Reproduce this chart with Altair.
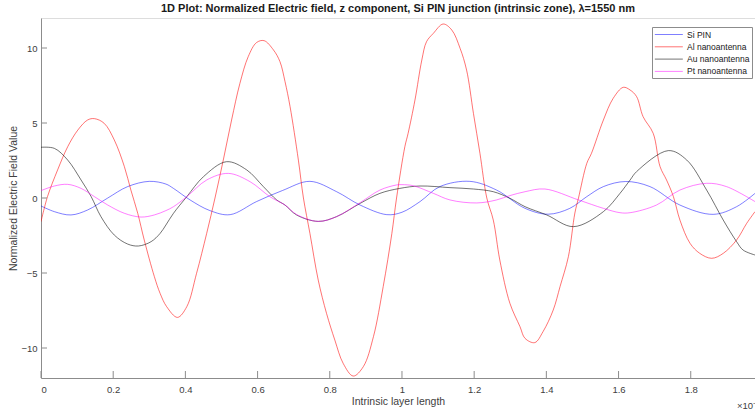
import altair as alt
import pandas as pd

names = ["Si PIN", "Al nanoantenna", "Au nanoantenna", "Pt nanoantenna"]
colors = ["rgba(0,0,255,0.5)", "rgba(255,0,0,0.55)", "rgba(0,0,0,0.55)", "rgba(255,0,255,0.5)"]

si_x = [0, 0.037, 0.083, 0.129, 0.185, 0.24, 0.30, 0.346, 0.367, 0.413, 0.468, 0.524, 0.597, 0.669,
        0.745, 0.819, 0.884, 0.958, 1.0, 1.05, 1.105, 1.188, 1.262, 1.341, 1.405, 1.465, 1.512,
        1.558, 1.62, 1.687, 1.77, 1.862, 1.927, 1.978]
si_y = [-0.53, -0.91, -1.13, -0.8, 0, 0.76, 1.11, 0.93, 0.64, -0.13, -0.84, -1.11, -0.24, 0.5,
        1.11, 0.42, -0.47, -1.11, -0.95, -0.24, 0.76, 1.11, 0.53, -0.69, -1.08, -0.69, 0.09,
        0.76, 1.1, 0.76, -0.47, -1.09, -0.58, 0.31]

al_x = [0, 0.018, 0.046, 0.074, 0.102, 0.129, 0.148, 0.175, 0.203, 0.231, 0.249, 0.268, 0.286,
        0.314, 0.33, 0.348, 0.378, 0.404, 0.431, 0.459, 0.482, 0.505, 0.528, 0.551, 0.574, 0.597,
        0.618, 0.644, 0.662, 0.676, 0.69, 0.713, 0.727, 0.745, 0.768, 0.791, 0.814, 0.837, 0.865,
        0.893, 0.921, 0.948, 0.972, 0.985, 1.008, 1.017, 1.036, 1.055, 1.068, 1.087, 1.114, 1.138,
        1.161, 1.179, 1.198, 1.216, 1.235, 1.253, 1.271, 1.299, 1.327, 1.341, 1.368, 1.391, 1.419,
        1.438, 1.461, 1.479, 1.489, 1.512, 1.525, 1.558, 1.585, 1.613, 1.632, 1.65, 1.668, 1.696,
        1.715, 1.733, 1.752, 1.77, 1.798, 1.825, 1.858, 1.89, 1.927, 1.955, 1.978]
al_y = [-1.58, 0.09, 1.87, 3.42, 4.53, 5.2, 5.29, 4.98, 3.87, 2.09, 0.53, -1.02, -2.8,
        -5.24, -6.36, -7.24, -7.96, -7.24, -5.02, -2.36, 0, 2.53, 5.2, 7.64, 9.42, 10.36,
        10.49, 9.87, 9.09, 7.76, 6.09, 2.53, 0, -2.36, -5.47, -7.69, -9.47, -11.02, -11.87,
        -11.24, -9.24, -5.91, -2.36, 0, 3.42, 4.31, 6.53, 9.2, 10.42, 10.98, 11.6, 11.2,
        9.98, 8.53, 5.64, 2.98, 0, -1.47, -4.13, -7.02, -8.58, -9.36, -9.64, -8.9, -7.47,
        -5.9, -3.91, -1.0, 0, 2.31, 2.98, 5.2, 6.64, 7.38, 7.2, 6.76, 5.42, 4.31,
        2.09, 1.2, 0.09, -1.47, -3.02, -3.69, -4.02, -3.69, -2.8, -1.69, -0.91]

au_x = [0, 0.037, 0.074, 0.111, 0.139, 0.166, 0.203, 0.24, 0.27, 0.305, 0.33, 0.346, 0.367, 0.404,
        0.45, 0.514, 0.57, 0.616, 0.653, 0.676, 0.708, 0.768, 0.819, 0.884, 0.939, 0.994, 1.05,
        1.133, 1.198, 1.253, 1.299, 1.341, 1.401, 1.475, 1.558, 1.604, 1.632, 1.65, 1.738, 1.789,
        1.844, 1.89, 1.927, 1.945, 1.978]
au_y = [3.38, 3.31, 2.53, 1.2, 0.09, -1.24, -2.47, -3.07, -3.2, -2.91, -2.36, -1.8, -1.02, 0.09,
        1.42, 2.42, 1.87, 0.76, -0.13, -0.47, -1.13, -1.56, -1.24, -0.36, 0.31, 0.64, 0.8,
        0.69, 0.6, 0.42, -0.02, -0.58, -1.13, -1.91, -0.91, 0.31, 1.2, 1.76, 3.16, 2.53,
        0.53, -1.47, -2.91, -3.47, -3.8]

pt_x = [0, 0.037, 0.074, 0.111, 0.148, 0.185, 0.231, 0.277, 0.314, 0.346, 0.367, 0.404, 0.459,
        0.519, 0.579, 0.634, 0.676, 0.708, 0.768, 0.819, 0.884, 0.939, 0.985, 1.0, 1.031, 1.087,
        1.133, 1.207, 1.262, 1.299, 1.341, 1.396, 1.489, 1.558, 1.604, 1.632, 1.705, 1.77, 1.844,
        1.899, 1.978]
pt_y = [0.49, 0.8, 0.91, 0.64, 0.09, -0.47, -1.02, -1.27, -1.13, -0.84, -0.58, 0.09, 1.2,
        1.64, 1.09, 0.09, -0.47, -1.1, -1.56, -1.24, -0.31, 0.53, 0.87, 0.89, 0.82, 0.31,
        -0.13, -0.33, -0.13, 0.16, 0.42, 0.6, -0.13, -0.69, -0.98, -0.98, -0.47, 0.53, 0.98,
        0.76, -0.24]

x_ticks = [0, 0.2, 0.4, 0.6, 0.8, 1.0, 1.2, 1.4, 1.6, 1.8]
y_ticks = [-10, -5, 0, 5, 10]

rows = []
for i, (n, xs, ys) in enumerate(zip(names, [si_x, al_x, au_x, pt_x], [si_y, al_y, au_y, pt_y])):
    for a, b in zip(xs, ys):
        rows.append({"series": n, "x": a, "y": b, "k": i})
df = pd.DataFrame(rows)

W, H = 714, 360
FONT = "Liberation Sans"
AXC = "#8c8c8c"
LBL = "#404040"

xscale = alt.Scale(domain=[0, 1.978], nice=False, zero=False)
yscale = alt.Scale(domain=[-12, 12], nice=False, zero=False)

lines = alt.Chart(df).mark_line(strokeWidth=1, interpolate="catmull-rom", clip=True).encode(
    x=alt.X("x:Q", scale=xscale, axis=alt.Axis(
        values=x_ticks, format="~g", title="Intrinsic layer length", ticks=False, tickSize=0,
        labelPadding=6, titlePadding=3, grid=False, domainColor=AXC, labelColor=LBL,
        titleColor=LBL, labelFontSize=9.5, titleFontSize=10.5, titleFontWeight="normal",
        labelFont=FONT, titleFont=FONT)),
    y=alt.Y("y:Q", scale=yscale, axis=alt.Axis(
        values=y_ticks, title="Normalized Electric Field Value", ticks=False, tickSize=0,
        labelPadding=4, titlePadding=2, grid=False, domainColor=AXC, labelColor=LBL,
        titleColor=LBL, labelFontSize=9.5, titleFontSize=10.5, titleFontWeight="normal",
        labelFont=FONT, titleFont=FONT)),
    color=alt.Color("series:N", scale=alt.Scale(domain=names, range=colors), legend=alt.Legend(
        title=None, orient="none", legendX=611, legendY=9, strokeColor="#8c8c8c",
        fillColor="white", padding=2, symbolType="M-1,0H5", symbolSize=87,
        symbolStrokeWidth=1, labelFontSize=8.5, labelFont=FONT, labelColor="#202020",
        labelOffset=22, rowPadding=2.3, labelLimit=200)),
    detail="k:N",
)

xt = pd.DataFrame({"v": x_ticks})
yt = pd.DataFrame({"v": y_ticks})
xtick = alt.Chart(xt).mark_rule(color=AXC, strokeWidth=1).encode(
    x=alt.X("v:Q", scale=xscale), y=alt.value(H), y2=alt.value(H - 7))
ytick = alt.Chart(yt).mark_rule(color=AXC, strokeWidth=1).encode(
    y=alt.Y("v:Q", scale=yscale), x=alt.value(0), x2=alt.value(6))

expo = alt.Chart(pd.DataFrame({"t": ["×10⁻⁷"]})).mark_text(
    align="left", baseline="middle", fontSize=9.5, font=FONT, color=LBL
).encode(text="t:N", x=alt.value(696), y=alt.value(H + 28))

chart = alt.layer(lines, xtick, ytick, expo).properties(
    width=W, height=H,
    title=alt.TitleParams(
        "1D Plot: Normalized Electric field, z component, Si PIN junction (intrinsic zone), λ=1550 nm",
        fontSize=11, fontWeight="bold", font=FONT, color="#1a1a1a", offset=4, anchor="middle"),
    padding={"left": 41, "top": 18, "right": 0, "bottom": 36},
    autosize=alt.AutoSizeParams(type="none"),
).configure_view(stroke=None).configure(background="white")

chart.save("out.html", embed_options={"renderer": "svg", "actions": False})
